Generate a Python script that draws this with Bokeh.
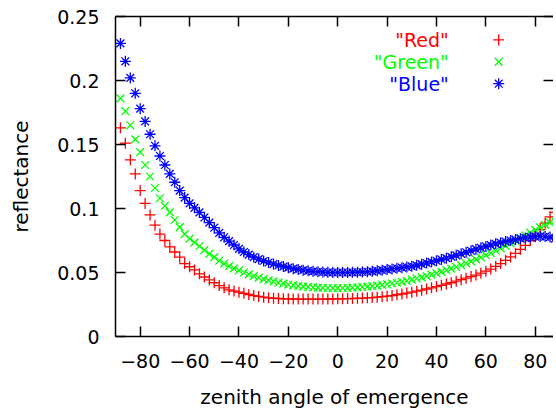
from bokeh.plotting import figure
from bokeh.models import (LinearAxis, FixedTicker, CustomJSTickFormatter,
                          ColumnDataSource, Range1d)
from bokeh.core.properties import value
from bokeh.embed import file_html
from bokeh.resources import INLINE

# ---------------- data ----------------
angles = [-88, -86, -84, -82, -80, -78, -76, -74, -72, -70,
          -68, -66, -64, -62, -60, -58, -56, -54, -52, -50,
          -48, -46, -44, -42, -40, -38, -36, -34, -32, -30,
          -28, -26, -24, -22, -20, -18, -16, -14, -12, -10,
          -8, -6, -4, -2, 0, 2, 4, 6, 8, 10,
          12, 14, 16, 18, 20, 22, 24, 26, 28, 30,
          32, 34, 36, 38, 40, 42, 44, 46, 48, 50,
          52, 54, 56, 58, 60, 62, 64, 66, 68, 70,
          72, 74, 76, 78, 80, 82, 84, 86, 88]

red = [0.163, 0.151, 0.138, 0.127, 0.114, 0.104, 0.095, 0.087, 0.080, 0.075,
       0.070, 0.066, 0.062, 0.057, 0.0545, 0.052, 0.049, 0.0465, 0.0442, 0.042,
       0.0398, 0.038, 0.0365, 0.0355, 0.0346, 0.0337, 0.0328, 0.032, 0.0313, 0.0307,
       0.0302, 0.0299, 0.0297, 0.0295, 0.0294, 0.0293, 0.0292, 0.0292, 0.0292, 0.0292,
       0.0292, 0.0292, 0.0293, 0.0293, 0.0294, 0.0295, 0.0296, 0.0297, 0.0298, 0.0300,
       0.0302, 0.0304, 0.0307, 0.0311, 0.0315, 0.032, 0.0326, 0.0332, 0.0339, 0.0346,
       0.0354, 0.0362, 0.0371, 0.038, 0.039, 0.040, 0.041, 0.042, 0.0432, 0.0444,
       0.0456, 0.0468, 0.048, 0.0495, 0.051, 0.0527, 0.0548, 0.057, 0.0595, 0.0622,
       0.065, 0.068, 0.0712, 0.0748, 0.079, 0.0835, 0.0885, 0.0935, 0.097]

green = [0.186, 0.176, 0.165, 0.154, 0.144, 0.134, 0.125, 0.116, 0.108, 0.102,
         0.097, 0.091, 0.0855, 0.080, 0.0765, 0.0735, 0.0705, 0.0675, 0.0645, 0.062,
         0.0592, 0.057, 0.055, 0.0532, 0.0516, 0.050, 0.0485, 0.0472, 0.046, 0.0449,
         0.0439, 0.043, 0.0421, 0.0413, 0.0406, 0.040, 0.0395, 0.039, 0.0387, 0.0384,
         0.0382, 0.038, 0.0379, 0.0378, 0.0378, 0.0379, 0.038, 0.0382, 0.0384, 0.0387,
         0.039, 0.0394, 0.0398, 0.0403, 0.0408, 0.0414, 0.042, 0.0427, 0.0435, 0.0444,
         0.0453, 0.0462, 0.0472, 0.0483, 0.0495, 0.0505, 0.0518, 0.053, 0.0543, 0.0557,
         0.0572, 0.0587, 0.0602, 0.0618, 0.0635, 0.0652, 0.067, 0.0688, 0.0707, 0.0727,
         0.0748, 0.0769, 0.079, 0.0812, 0.0833, 0.0853, 0.0872, 0.0889, 0.0903]

blue = [0.229, 0.215, 0.202, 0.190, 0.178, 0.168, 0.158, 0.149, 0.141, 0.134,
        0.127, 0.1205, 0.114, 0.1085, 0.104, 0.1005, 0.097, 0.093, 0.089, 0.085,
        0.081, 0.0775, 0.0745, 0.0715, 0.0685, 0.066, 0.064, 0.062, 0.0605, 0.059,
        0.0578, 0.0566, 0.0555, 0.0546, 0.0538, 0.053, 0.0524, 0.0518, 0.0513, 0.0509,
        0.0506, 0.0503, 0.0501, 0.050, 0.050, 0.050, 0.050, 0.0501, 0.0502, 0.0504,
        0.0506, 0.0509, 0.0513, 0.0518, 0.0523, 0.0528, 0.0533, 0.0538, 0.0543, 0.0548,
        0.0556, 0.0565, 0.0574, 0.0583, 0.0592, 0.0602, 0.0612, 0.0623, 0.0634, 0.0646,
        0.0658, 0.067, 0.0682, 0.0693, 0.0704, 0.0714, 0.0724, 0.0733, 0.0742, 0.075,
        0.0757, 0.0764, 0.077, 0.0776, 0.078, 0.0782, 0.0781, 0.0777, 0.0765]

series_names = ['"Red"', '"Green"', '"Blue"']
series_colors = ["#ff0000", "#00ff00", "#0000ff"]
series_markers = ["cross", "x", "asterisk"]

x_ticks = [-80, -60, -40, -20, 0, 20, 40, 60, 80]
y_ticks = [0, 0.05, 0.1, 0.15, 0.2, 0.25]

x_title = "zenith angle of emergence"
y_title = "reflectance"

# ---------------- layout / style ----------------
FONT = "DejaVu Sans"
TICK_SIZE = "19px"
LABEL_SIZE = "20px"
MARKER_SIZE = 11

# legend placement (data coordinates)
legend_text_x = 45.0
legend_marker_x = 65.2
legend_y = [0.2317, 0.2146, 0.1975]

p = figure(width=553, height=411, output_backend="svg", toolbar_location=None,
           x_range=Range1d(-90, 87.4), y_range=Range1d(0, 0.25),
           min_border_left=115, min_border_right=0,
           min_border_top=16, min_border_bottom=74)
p.grid.visible = False
p.outline_line_color = None
p.background_fill_color = "white"
p.border_fill_color = "white"

bottom_axis = p.below[0]
left_axis = p.left[0]

bottom_axis.ticker = FixedTicker(ticks=x_ticks)
left_axis.ticker = FixedTicker(ticks=y_ticks)
left_axis.formatter = CustomJSTickFormatter(
    code="var s = tick.toFixed(2); s = s.replace(/0+$/, ''); return s.replace(/\\.$/, '');")
bottom_axis.axis_label = x_title
left_axis.axis_label = y_title

blank = CustomJSTickFormatter(code="return '';")
top_axis = LinearAxis(ticker=FixedTicker(ticks=x_ticks), formatter=blank,
                      major_label_standoff=0, major_label_text_font_size="1px")
right_axis = LinearAxis(ticker=FixedTicker(ticks=y_ticks), formatter=blank,
                        major_label_standoff=0, major_label_text_font_size="1px",
                        axis_line_color=None)
p.add_layout(top_axis, "above")
p.add_layout(right_axis, "right")

for ax in [bottom_axis, left_axis, top_axis, right_axis]:
    ax.major_tick_in = 10
    ax.major_tick_out = 0
    ax.minor_tick_in = 0
    ax.minor_tick_out = 0
    ax.major_tick_line_color = "black"
    ax.major_tick_line_width = 1.5
    ax.major_label_text_font = FONT
    ax.major_label_text_color = "black"
    ax.axis_label_text_font = FONT
    ax.axis_label_text_font_style = "normal"
    ax.axis_label_text_font_size = LABEL_SIZE
    ax.axis_label_text_color = "black"

for ax in [bottom_axis, left_axis, top_axis]:
    ax.axis_line_color = "black"
    ax.axis_line_width = 1.5

bottom_axis.major_label_text_font_size = TICK_SIZE
left_axis.major_label_text_font_size = TICK_SIZE
bottom_axis.major_label_standoff = 17
left_axis.major_label_standoff = 16
bottom_axis.axis_label_standoff = 14
left_axis.axis_label_standoff = 21

# ---------------- series ----------------
for vals, col, mk in zip([red, green, blue], series_colors, series_markers):
    p.scatter(angles, vals, marker=mk, size=MARKER_SIZE, line_color=col,
              fill_color=None, line_width=1.3)

# ---------------- legend (gnuplot style) ----------------
leg = ColumnDataSource(dict(tx=[legend_text_x] * 3, mx=[legend_marker_x] * 3, y=legend_y,
                            name=series_names, color=series_colors, marker=series_markers))
p.text(x="tx", y="y", text="name", text_color="color", source=leg,
       text_align="right", text_baseline="middle",
       text_font=value(FONT), text_font_size=TICK_SIZE)
p.scatter(x="mx", y="y", marker="marker", line_color="color", fill_color=None,
          size=MARKER_SIZE, line_width=1.3, source=leg)

open("out.html", "w").write(file_html(p, INLINE))
